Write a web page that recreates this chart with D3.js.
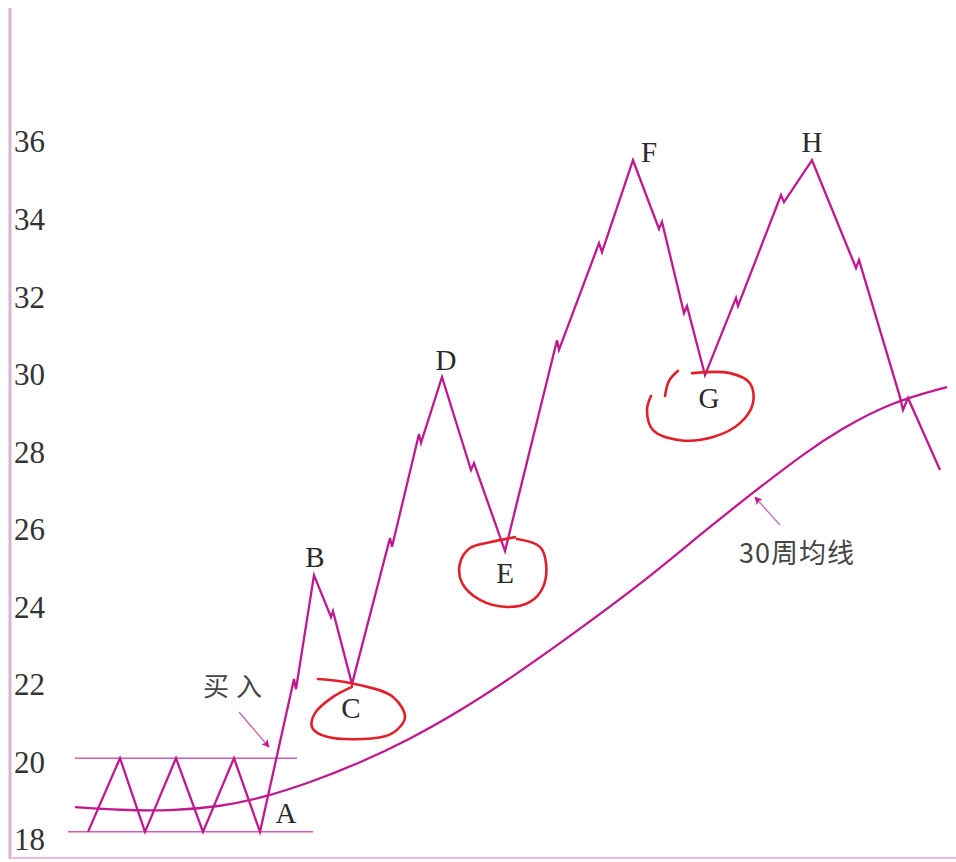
<!DOCTYPE html>
<html>
<head>
<meta charset="utf-8">
<script src="https://cdn.jsdelivr.net/npm/d3@7/dist/d3.min.js"></script>
<style>
  html, body { margin: 0; padding: 0; background: #fff; }
  svg { display: block; }
</style>
</head>
<body>
<svg id="chart" width="956" height="862"></svg>
<script>
// ---------- data ----------
const yTicks = [18, 20, 22, 24, 26, 28, 30, 32, 34, 36];

// weekly price path (week index, price)
const priceWeeks = [1.3, 4.5, 7.0, 10.1, 12.8, 15.9, 18.5, 21.9, 22.1, 23.9, 25.6, 25.8, 27.7,
  31.5, 31.7, 34.4, 34.6, 36.7, 39.6, 39.9, 43.0, 48.2, 48.4, 52.4, 52.7, 55.8, 58.4, 58.7,
  60.9, 61.2, 63.0, 66.1, 66.3, 70.6, 70.9, 73.7, 78.1, 78.4, 82.5, 82.8, 83.3, 86.5];
const prices = [18.21, 20.11, 18.21, 20.11, 18.21, 20.11, 18.21, 22.15, 21.89, 24.83, 23.75, 23.90, 22.02,
  25.79, 25.56, 28.47, 28.24, 29.94, 27.54, 27.72, 25.45, 30.89, 30.64, 33.39, 33.16, 35.53, 33.76, 33.94,
  31.59, 31.77, 29.99, 31.98, 31.77, 34.63, 34.45, 35.53, 32.75, 32.96, 29.42, 29.09, 29.40, 27.54];

// 30-week moving average
const maWeeks = [0, 4.5, 9.5, 14.5, 18.5, 23.5, 28.5, 33.5, 38.5, 43.5, 49.2, 56.5, 63.2, 68.2, 73.2, 76.5, 81.5, 87.2];
const maValues = [18.85, 18.77, 18.75, 18.86, 19.07, 19.48, 19.99, 20.60, 21.33, 22.16, 23.20, 24.58, 26.02, 27.04, 28.02, 28.58, 29.28, 29.68];

// consolidation band
const bandUpper = 20.11, bandUpperWeeks = [0, 22.2];
const bandLower = 18.21, bandLowerWeeks = [-0.7, 23.8];

// point labels: letter and index into the price path
const pointNames = ["A", "B", "C", "D", "E", "F", "G", "H"];
const pointIndex = [6, 9, 12, 17, 20, 25, 30, 35];

// hand-drawn red marks (week, price)
const circleC = [[24.3,22.15],[27.5,22.05],[31.8,21.69],[33.0,21.17],[32.2,20.84],[30.8,20.66],[25.2,20.66],[23.7,20.91],[24.0,21.27],[25.8,21.69],[27.7,21.95]];
const circleE = [[44.2,25.76],[46.5,25.56],[47.1,25.14],[46.8,24.52],[45.5,24.14],[43.2,24.01],[40.5,24.19],[38.7,24.63],[38.5,25.14],[39.5,25.53],[41.5,25.68],[44.0,25.81]];
const circleG = [[61.7,30.04],[65.5,30.04],[67.5,29.78],[67.8,29.27],[66.5,28.75],[63.8,28.39],[60.5,28.31],[57.8,28.57],[57.2,29.09],[57.6,29.45]];
const strokeG = [[60.3,30.10],[59.4,29.84],[59.0,29.45]];

// ---------- layout ----------
const svg = d3.select("#chart");
const x = d3.scaleLinear().domain([0, 88]).range([75, 955]);
const y = d3.scaleLinear().domain([18, 36]).range([840, 142]);

const MAG = "#c0188e";
const serif = "'Liberation Serif', 'Times New Roman', serif";
const cjk = "'Noto Sans CJK SC', 'Noto Sans', sans-serif";

// frame lines
svg.append("line").attr("x1", 10).attr("x2", 10).attr("y1", 8).attr("y2", 859)
  .attr("stroke", "#dab4d6").attr("stroke-width", 3);
svg.append("line").attr("x1", 10).attr("x2", 956).attr("y1", 858).attr("y2", 858)
  .attr("stroke", "#f2b6e2").attr("stroke-width", 2);

// y tick labels
const ax = svg.append("g").attr("transform", "translate(14,0)")
  .call(d3.axisRight(y).tickValues(yTicks).tickSize(0).tickPadding(0).tickFormat(d3.format("d")));
ax.select(".domain").remove();
ax.selectAll("text").attr("font-family", serif).attr("font-size", 31).attr("fill", "#333");

// band lines
svg.append("line").attr("x1", x(bandUpperWeeks[0])).attr("x2", x(bandUpperWeeks[1]))
  .attr("y1", y(bandUpper)).attr("y2", y(bandUpper)).attr("stroke", "#d35bb4").attr("stroke-width", 1.5);
svg.append("line").attr("x1", x(bandLowerWeeks[0])).attr("x2", x(bandLowerWeeks[1]))
  .attr("y1", y(bandLower)).attr("y2", y(bandLower)).attr("stroke", "#d35bb4").attr("stroke-width", 1.5);

// moving average
const maLine = d3.line().x((d, i) => x(maWeeks[i])).y(d => y(d)).curve(d3.curveBasis);
svg.append("path").attr("d", maLine(maValues)).attr("fill", "none")
  .attr("stroke", MAG).attr("stroke-width", 2.3);

// price path
const pLine = d3.line().x((d, i) => x(priceWeeks[i])).y(d => y(d));
svg.append("path").attr("d", pLine(prices)).attr("fill", "none")
  .attr("stroke", MAG).attr("stroke-width", 2.3).attr("stroke-linejoin", "miter");

// red hand-drawn circles
const rLine = d3.line().x(d => x(d[0])).y(d => y(d[1])).curve(d3.curveCatmullRom.alpha(0.5));
[circleC, circleE, circleG, strokeG].forEach(c => {
  svg.append("path").attr("d", rLine(c)).attr("fill", "none")
    .attr("stroke", "#e2202a").attr("stroke-width", 2.6).attr("stroke-linecap", "round");
});

// point letters
const labelOffset = {A: [26, -9], B: [1, -8], C: [-1, 34], D: [4, -7], E: [0, 32], F: [16, 2], G: [4, 33], H: [0, -8]};
pointNames.forEach((n, k) => {
  const i = pointIndex[k];
  svg.append("text").attr("x", x(priceWeeks[i]) + labelOffset[n][0])
    .attr("y", y(prices[i]) + labelOffset[n][1])
    .attr("text-anchor", "middle").attr("font-family", serif).attr("font-size", 29)
    .attr("fill", "#2a2a2a").text(n);
});

// arrows
const defs = svg.append("defs");
defs.append("marker").attr("id", "ah").attr("viewBox", "0 0 10 10").attr("refX", 9).attr("refY", 5)
  .attr("markerWidth", 8).attr("markerHeight", 8).attr("markerUnits", "userSpaceOnUse")
  .attr("orient", "auto-start-reverse")
  .append("path").attr("d", "M0,0 L10,5 L0,10 L2.5,5 Z").attr("fill", MAG);

svg.append("line").attr("x1", x(16.4)).attr("y1", y(21.30)).attr("x2", x(19.4)).attr("y2", y(20.40))
  .attr("stroke", "#c86ab0").attr("stroke-width", 1.4).attr("marker-end", "url(#ah)");
svg.append("line").attr("x1", x(70.5)).attr("y1", y(26.12)).attr("x2", x(68.0)).attr("y2", y(26.84))
  .attr("stroke", "#c86ab0").attr("stroke-width", 1.4).attr("marker-end", "url(#ah)");

svg.append("text").attr("x", x(16.1)).attr("y", y(21.95)).attr("dy", "0.36em")
  .attr("text-anchor", "middle").attr("font-family", cjk).attr("font-size", 26)
  .attr("letter-spacing", 7).attr("fill", "#444").text("买入");
svg.append("text").attr("x", x(72.2)).attr("y", y(25.40)).attr("dy", "0.36em")
  .attr("text-anchor", "middle").attr("font-family", cjk).attr("font-size", 27)
  .attr("letter-spacing", 1).attr("fill", "#444").text("30周均线");
</script>
</body>
</html>
